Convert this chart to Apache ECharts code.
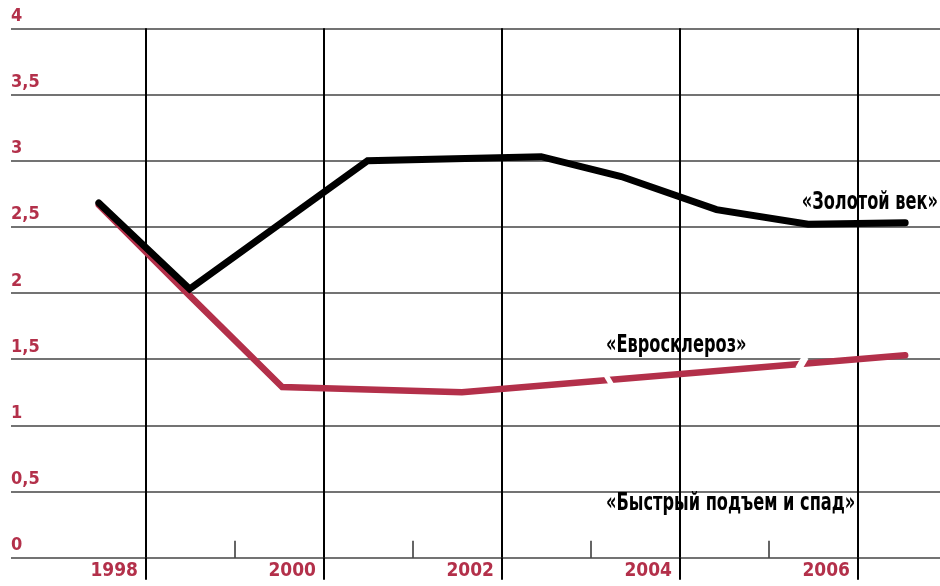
<!DOCTYPE html>
<html>
<head>
<meta charset="utf-8">
<script src="https://cdn.jsdelivr.net/npm/echarts@6/dist/echarts.min.js"></script>
<style>
html,body{margin:0;padding:0;background:#fff;}
#chart{width:940px;height:586px;}
</style>
</head>
<body>
<div id="chart"></div>
<script>
// ---- data ----
const majorYears = [1998, 2000, 2002, 2004, 2006];
const minorYears = [1999, 2001, 2003, 2005];
const yTicks = [0, 0.5, 1, 1.5, 2, 2.5, 3, 3.5, 4];
// «Золотой век» (black line): [year position, value]
const goldenX = [1997.47, 1998.49, 2000.49, 2002.44, 2003.34, 2004.41, 2005.44, 2006.53];
const goldenY = [2.68, 2.03, 3.00, 3.03, 2.88, 2.63, 2.52, 2.53];
// «Евросклероз» (red line)
const euroX = [1997.47, 1998.49, 1999.53, 2001.55, 2006.53];
const euroY = [2.665, 1.98, 1.29, 1.25, 1.53];
// white cuts in the red line
const cutX = [2003.20, 2005.37];
const cutY = [1.343, 1.471];
const labels = {
  golden: '«Золотой век»',
  euro: '«Евросклероз»',
  boom: '«Быстрый подъем и спад»'
};

const RED = '#b3304a';
const FONT = "'DejaVu Sans Condensed', 'Liberation Sans Narrow', 'Roboto', sans-serif";
const xMin = 1998 - 135 / 89;
const xMax = 1998 + 794 / 89;

const chart = echarts.init(document.getElementById('chart'), null, {renderer: 'canvas'});
chart.setOption({
  animation: false,
  backgroundColor: '#fff',
  grid: {left: 11, right: 0, top: 28.3, bottom: 28.3, containLabel: false},
  xAxis: [{
    type: 'value', min: xMin, max: xMax, position: 'bottom',
    axisLine: {show: false},
    axisTick: {show: true, customValues: majorYears, inside: false, length: 22, lineStyle: {color: '#000', width: 2}},
    axisLabel: {
      show: true, customValues: majorYears, align: 'right', verticalAlign: 'top',
      padding: [0, 8, 0, 0], margin: 4,
      color: RED, fontFamily: FONT, fontWeight: 'bold', fontSize: 19,
      formatter: v => String(Math.round(v))
    },
    splitLine: {show: true, lineStyle: {color: '#000', width: 2}}
  }, {
    type: 'value', min: xMin, max: xMax, position: 'bottom',
    axisLine: {show: false},
    axisTick: {show: true, customValues: minorYears, inside: true, length: 17, lineStyle: {color: '#333', width: 1.5}},
    axisLabel: {show: false},
    splitLine: {show: false}
  }],
  yAxis: {
    type: 'value', min: 0, max: 4, interval: 0.5,
    axisLine: {show: false}, axisTick: {show: false},
    axisLabel: {
      inside: true, margin: 0, align: 'left', verticalAlign: 'bottom',
      padding: [0, 0, 3, 0],
      color: RED, fontFamily: FONT, fontWeight: 'bold', fontSize: 18,
      formatter: v => String(v).replace('.', ',')
    },
    splitLine: {show: true, lineStyle: {color: '#444', width: 1.5}}
  },
  series: [{
    name: labels.euro, type: 'line', xAxisIndex: 0,
    data: euroX.map((x, i) => [x, euroY[i]]),
    symbol: 'none', z: 3,
    lineStyle: {color: RED, width: 6.5, cap: 'round', join: 'miter'},
    markPoint: {
      silent: true,
      symbol: 'rect',
      itemStyle: {color: '#fff'},
      label: {show: false},
      data: [
        {coord: [cutX[0], cutY[0]], symbolSize: [5, 14], symbolRotate: 30},
        {coord: [cutX[1], cutY[1]], symbolSize: [7, 14], symbolRotate: -30}
      ]
    }
  }, {
    name: labels.golden, type: 'line', xAxisIndex: 0,
    data: goldenX.map((x, i) => [x, goldenY[i]]),
    symbol: 'none', z: 4,
    lineStyle: {color: '#000', width: 7, cap: 'round', join: 'miter'}
  }],
  graphic: [
    {type: 'text', x: 938, y: 202.5, scaleX: 0.75, z: 10,
     style: {text: labels.golden, font: 'bold 24px ' + FONT, fill: '#000', align: 'right', verticalAlign: 'middle'}},
    {type: 'text', x: 606, y: 346, scaleX: 0.75, z: 10,
     style: {text: labels.euro, font: 'bold 24px ' + FONT, fill: '#000', align: 'left', verticalAlign: 'middle'}},
    {type: 'text', x: 606, y: 503.5, scaleX: 0.75, z: 10,
     style: {text: labels.boom, font: 'bold 24px ' + FONT, fill: '#000', align: 'left', verticalAlign: 'middle'}}
  ]
});
</script>
</body>
</html>
